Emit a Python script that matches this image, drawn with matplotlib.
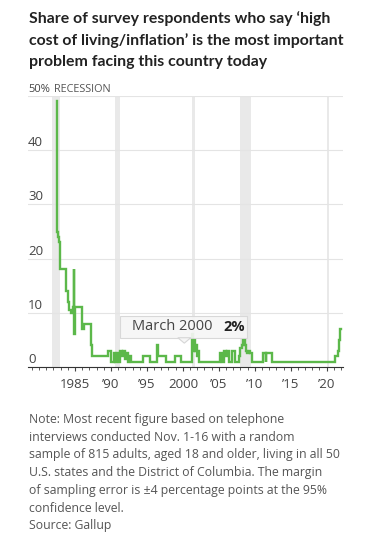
import matplotlib.pyplot as plt
from matplotlib.patches import Rectangle, Polygon
import matplotlib.transforms as mtransforms

# Gallup: share naming high cost of living / inflation as the top problem (%)
years = [1982.5, 1982.55, 1982.65, 1982.75, 1982.9, 1983.8, 1984.0, 1984.2, 1984.45,
         1984.7, 1984.85, 1984.9, 1984.97, 1985.05, 1985.95, 1986.2, 1987.2, 1987.35,
         1989.6, 1990.0, 1990.4, 1990.6, 1990.9, 1991.1, 1991.3, 1991.5, 1991.7,
         1991.9, 1992.1, 1992.3, 1992.5, 1992.8, 1994.5, 1995.4, 1996.4, 1996.6,
         1997.6, 1998.9, 1999.7, 2001.3, 2001.45, 2001.55, 2001.65, 2001.8, 2001.95,
         2002.1, 2002.25, 2005.2, 2005.5, 2005.75, 2005.95, 2006.15, 2006.4, 2006.9,
         2007.25, 2007.8, 2007.95, 2008.2, 2008.4, 2008.6, 2008.75, 2008.9, 2009.15,
         2009.4, 2009.6, 2011.1, 2011.5, 2011.6, 2012.4, 2021.2, 2021.6, 2021.75,
         2021.85, 2021.95]
share = [49, 25, 24, 23, 18, 14, 12, 10.5, 10,
         11, 18, 6, 10, 11, 7, 8, 4, 2,
         3, 1, 2.5, 1, 2.5, 1, 3, 2, 3,
         1.5, 2.5, 1, 2, 1, 2, 1, 4, 2,
         1, 2, 1, 6, 3, 5, 3, 4, 2,
         3, 1, 2.5, 1, 3, 2, 3, 1, 3,
         1, 2, 3.5, 4, 5, 4, 3, 2.5, 3,
         2.5, 1, 2.5, 1, 2.5, 1, 2, 3, 5,
         7, 7]

recessions = [(1981.8, 1982.9), (1990.55, 1991.2), (2001.2, 2001.7),
              (2007.95, 2009.45), (2020.1, 2020.3)]

y_ticks = [0, 10, 20, 30, 40, 50]
y_labels = ['0', '10', '20', '30', '40', '50%']
x_ticks = [1985, 1990, 1995, 2000, 2005, 2010, 2015, 2020]
x_labels = ['1985', '’90', '’95', '2000', '’05', '’10', '’15', '’20']

anno_year = 2000.2
anno_date = 'March 2000'
anno_value = '2%'

title = ("Share of survey respondents who say ‘high\n"
         "cost of living/inflation’ is the most important\n"
         "problem facing this country today")
note = ("Note: Most recent figure based on telephone\n"
        "interviews conducted Nov. 1-16 with a random\n"
        "sample of 815 adults, aged 18 and older, living in all 50\n"
        "U.S. states and the District of Columbia. The margin\n"
        "of sampling error is ±4 percentage points at the 95%\n"
        "confidence level.\n"
        "Source: Gallup")

plt.rcParams['font.family'] = ['Open Sans', 'DejaVu Sans']

fig = plt.figure(figsize=(3.75, 5.39), dpi=100)
ax = fig.add_axes([28/375, 1 - 367/539, 315/375, 271/539])

for start, end in recessions:
    ax.axvspan(start, end, color='#e9e9e9', lw=0, zorder=0)

ax.plot(years, share, drawstyle='steps-post', color='#5cb84a', lw=1.7,
        solid_joinstyle='miter', zorder=3)

ax.set_xlim(1978.46, 2022.27)
ax.set_ylim(0, 50)

ax.set_yticks(y_ticks)
ax.set_yticklabels([])
ax.tick_params(axis='y', length=0)
ax.yaxis.grid(True, color='#e4e4e4', lw=0.8, zorder=1)
ax.set_axisbelow(True)

ax.set_xticks(x_ticks, x_labels)
ax.set_xticks(range(1979, 2023), minor=True)
ax.tick_params(axis='x', which='major', length=3, width=0.8, color='#444',
               pad=5, labelsize=9.5, labelcolor='#444')
ax.tick_params(axis='x', which='minor', length=2, width=0.6, color='#444')

for side in ['top', 'left', 'right']:
    ax.spines[side].set_visible(False)
ax.spines['bottom'].set_color('#333')
ax.spines['bottom'].set_linewidth(0.8)

# y labels sit just above their gridlines
lab_trans = mtransforms.blended_transform_factory(ax.transAxes, ax.transData)
lab_trans = lab_trans + mtransforms.ScaledTranslation(0, 1/100, fig.dpi_scale_trans)
for v, lab in zip(y_ticks, y_labels):
    ax.text(0, v, lab, transform=lab_trans, ha='left', va='bottom',
            fontsize=9.5 if v < 50 else 8, color='#444', clip_on=False)
ax.text(recessions[0][0] + 0.3, 50, 'RECESSION',
        transform=ax.transData + mtransforms.ScaledTranslation(0, 1/100, fig.dpi_scale_trans),
        ha='left', va='bottom', fontsize=7.8, color='#555', clip_on=False)

# hover tooltip
box_left, box_right = anno_year - 8.94, anno_year + 8.72
box_bottom, box_top = 5.4, 9.4
ax.add_patch(Rectangle((box_left, box_bottom), box_right - box_left, box_top - box_bottom,
                       facecolor='#f6f6f6', edgecolor='#d6d6d6', lw=0.8, alpha=0.92,
                       zorder=5, clip_on=False))
ax.add_patch(Polygon([(anno_year - 0.9, box_bottom), (anno_year + 0.9, box_bottom),
                      (anno_year, box_bottom - 1.0)], closed=True,
                     facecolor='#f6f6f6', edgecolor='#d6d6d6', lw=0.8, zorder=5))
ax.text(box_left + 1.7, (box_bottom + box_top) / 2, anno_date, ha='left', va='center',
        fontsize=10.5, color='#444', zorder=6)
ax.text(box_right - 0.3, (box_bottom + box_top) / 2, anno_value, ha='right', va='center',
        fontsize=10.5, color='#222', fontweight='bold', zorder=6)

fig.text(29/375, 1 - 11/539, title, ha='left', va='top', fontsize=11.4,
         fontweight='bold', color='#222', linespacing=1.6, family=['Lato', 'DejaVu Sans'])
fig.text(29/375, 1 - 413/539, note, ha='left', va='top', fontsize=8.8,
         color='#555', linespacing=1.47)

fig.savefig('out.png', dpi=100)
